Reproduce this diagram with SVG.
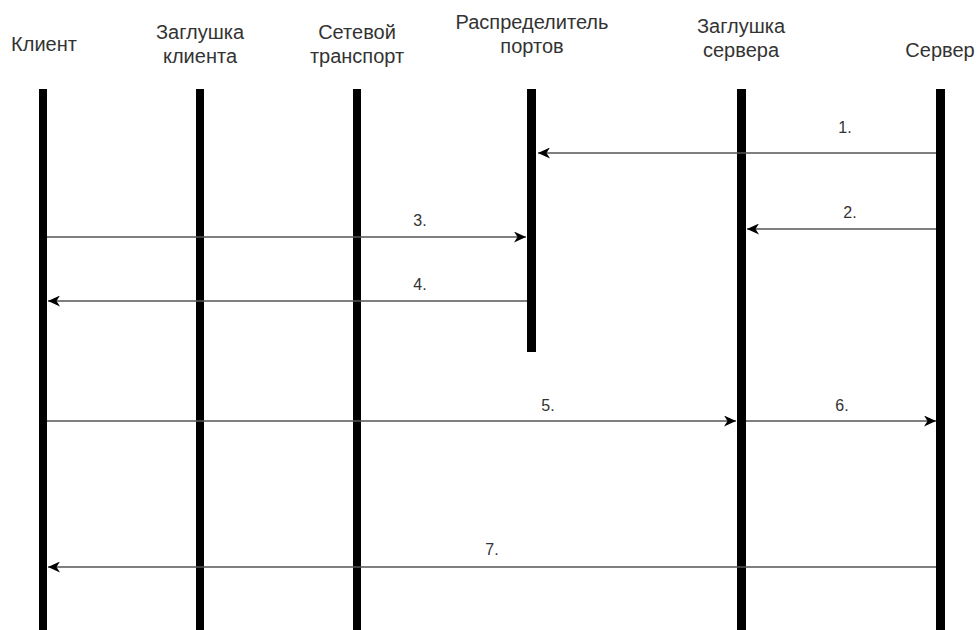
<svg xmlns="http://www.w3.org/2000/svg" width="979" height="630" viewBox="0 0 979 630">
<defs>
<style>
.hdr{font-family:"Liberation Sans",Arial,sans-serif;font-size:20px;fill:#333;text-anchor:middle}
.lbl{font-family:"Liberation Sans",Arial,sans-serif;font-size:16px;fill:#333;text-anchor:middle}
.life{fill:#000}
.msg{stroke:#555;stroke-width:1.6;fill:none}
</style>
<marker id="arr" markerWidth="13" markerHeight="11" refX="12" refY="5.5" orient="auto" markerUnits="userSpaceOnUse">
<path d="M0,0 L12,5.5 L0,11 L3.5,5.5 Z" fill="#000"/>
</marker>
</defs>
<rect width="979" height="630" fill="#fff"/>
<g id="client">
<text class="hdr" x="44" y="51">Клиент</text>
<rect class="life" x="39" y="89" width="8" height="545"/>
</g>
<g id="client-stub">
<text class="hdr" x="200" y="39">Заглушка</text>
<text class="hdr" x="200" y="63">клиента</text>
<rect class="life" x="196" y="89" width="8" height="545"/>
</g>
<g id="transport">
<text class="hdr" x="357" y="39">Сетевой</text>
<text class="hdr" x="357" y="63">транспорт</text>
<rect class="life" x="353" y="89" width="8" height="545"/>
</g>
<g id="port-mapper">
<text class="hdr" x="532" y="29">Распределитель</text>
<text class="hdr" x="532" y="53">портов</text>
<rect class="life" x="527" y="89" width="9" height="263"/>
</g>
<g id="server-stub">
<text class="hdr" x="741" y="33">Заглушка</text>
<text class="hdr" x="741" y="57">сервера</text>
<rect class="life" x="737" y="89" width="9" height="545"/>
</g>
<g id="server">
<text class="hdr" x="940" y="57">Сервер</text>
<rect class="life" x="936" y="89" width="9" height="545"/>
</g>
<g id="connectors">
<line class="msg" x1="936" y1="153" x2="538" y2="153" marker-end="url(#arr)"/>
<text class="lbl" x="845" y="133">1.</text>
<line class="msg" x1="936" y1="229" x2="747" y2="229" marker-end="url(#arr)"/>
<text class="lbl" x="850" y="218">2.</text>
<line class="msg" x1="47" y1="237" x2="526" y2="237" marker-end="url(#arr)"/>
<text class="lbl" x="420" y="226">3.</text>
<line class="msg" x1="527" y1="301" x2="48" y2="301" marker-end="url(#arr)"/>
<text class="lbl" x="420" y="290">4.</text>
<line class="msg" x1="47" y1="421" x2="736" y2="421" marker-end="url(#arr)"/>
<text class="lbl" x="548" y="411">5.</text>
<line class="msg" x1="746" y1="421" x2="936" y2="421" marker-end="url(#arr)"/>
<text class="lbl" x="842" y="411">6.</text>
<line class="msg" x1="936" y1="567" x2="48" y2="567" marker-end="url(#arr)"/>
<text class="lbl" x="492" y="555">7.</text>
</g>
</svg>
